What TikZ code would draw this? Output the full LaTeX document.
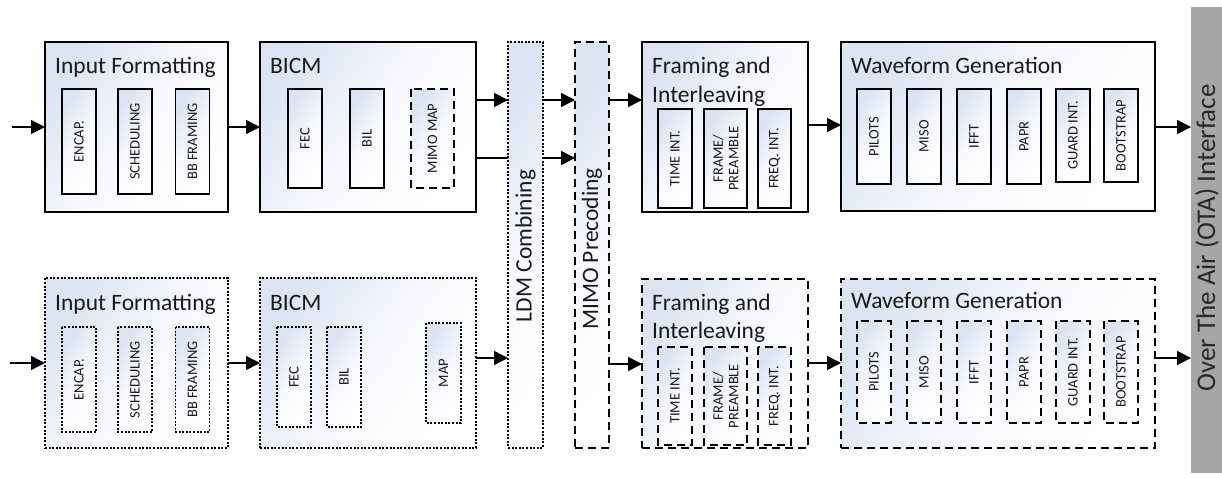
\documentclass[tikz,border=0pt]{standalone}
\usepackage{fontspec}
\setmainfont{Carlito}
\usetikzlibrary{arrows.meta,calc}
\definecolor{gradc}{RGB}{220,228,243}
\definecolor{otagray}{RGB}{166,166,166}
\definecolor{otatext}{RGB}{40,40,40}
\definecolor{txt}{RGB}{25,25,25}
\tikzset{
  boxbase/.style={draw=black, line width=1.4pt, inner sep=0pt, outer sep=0pt, text=txt,
    top color=gradc, bottom color=white, middle color=white!75!gradc, shading angle=55},
  solidbox/.style={boxbase},
  dotbox/.style={boxbase, dash pattern=on 2pt off 1.6pt},
  dashbox/.style={boxbase, dash pattern=on 8pt off 5pt},
  title/.style={anchor=base west, inner sep=0pt, text=txt, font=\fontsize{23.5}{28}\selectfont},
  sub/.style={rotate=90, inner sep=0pt, align=center, font=\fontsize{14.5}{15.5}\selectfont},
  arr/.style={line width=1.6pt, -{Triangle[length=14pt,width=14pt]}},
  ln/.style={line width=1.6pt}
}
\newcommand{\obox}[6]{% style, name, x1,y1,x2,y2
  \node[#1, anchor=north west, minimum width={(#5-#3)*1pt}, minimum height={(#6-#4)*1pt}] (#2) at (#3,#4) {};}
\newcommand{\ibox}[7]{% style, name, cx, cy, w, h, text
  \node[#1, sub, minimum width=#6pt, minimum height=#5pt] (#2) at (#3,#4) {#7};}
\begin{document}
\begin{tikzpicture}[x=1pt,y=-1pt]
\useasboundingbox (0,0) rectangle (1222,477);

% ---------- top row ----------
\obox{solidbox}{if1}{45}{42}{228}{212}
\node[title] (tif1) at (55,73) {Input Formatting};
\ibox{solidbox}{enc1}{79}{141.5}{34}{105}{ENCAP.}
\ibox{solidbox}{sch1}{135}{141.5}{34}{105}{SCHEDULING}
\ibox{solidbox}{bbf1}{192.5}{141.5}{34}{105}{BB FRAMING}

\obox{solidbox}{bicm1}{260}{42}{476}{212}
\node[title] (tbicm1) at (270,73) {BICM};
\ibox{solidbox}{fec1}{305}{138.5}{34}{99}{FEC}
\ibox{solidbox}{bil1}{367}{138.5}{34}{99}{BIL}
\ibox{dashbox}{mm1}{432.5}{138.5}{43}{99}{MIMO MAP}

\obox{dotbox}{ldm}{508}{42}{543}{448}
\node[rotate=90, inner sep=0pt, text=txt, font=\fontsize{23.5}{28}\selectfont] (tldm) at (525.5,246) {LDM Combining};
\obox{dashbox}{mimo}{575}{42}{609}{448}
\node[rotate=90, inner sep=0pt, text=txt, font=\fontsize{23.5}{28}\selectfont] (tmimo) at (592,249) {MIMO Precoding};

\obox{solidbox}{fi1}{642}{42}{808}{212}
\node[title] (tfi1a) at (652,73) {Framing and};
\node[title] (tfi1b) at (652,102) {Interleaving};
\ibox{solidbox}{ti1}{675}{158.5}{34}{99}{TIME INT.}
\ibox{solidbox}{fp1}{725.5}{158.5}{43}{99}{FRAME/\\PREAMBLE}
\ibox{solidbox}{fq1}{774.5}{158.5}{33}{99}{FREQ. INT.}

\obox{solidbox}{wg1}{841}{42}{1155}{211}
\node[title] (twg1) at (851,73) {Waveform Generation};
\ibox{solidbox}{pil1}{874}{136.5}{34}{95}{PILOTS}
\ibox{solidbox}{mis1}{924}{136.5}{34}{95}{MISO}
\ibox{solidbox}{ift1}{974}{136.5}{34}{95}{IFFT}
\ibox{solidbox}{pap1}{1024}{136.5}{34}{95}{PAPR}
\ibox{solidbox}{gi1}{1073}{135.5}{34}{93}{GUARD INT.}
\ibox{solidbox}{bs1}{1121}{135.5}{34}{93}{BOOTSTRAP}

% ---------- bottom row ----------
\obox{dotbox}{if2}{45}{278}{228}{448}
\node[title] (tif2) at (55,310) {Input Formatting};
\ibox{dotbox}{enc2}{79}{379.5}{34}{105}{ENCAP.}
\ibox{dotbox}{sch2}{135}{379.5}{34}{105}{SCHEDULING}
\ibox{dotbox}{bbf2}{192.5}{379.5}{34}{105}{BB FRAMING}

\obox{dotbox}{bicm2}{260}{278}{476}{448}
\node[title] (tbicm2) at (270,310) {BICM};
\ibox{dotbox}{fec2}{294}{377}{34}{100}{FEC}
\ibox{dotbox}{bil2}{344}{377}{34}{100}{BIL}
\ibox{dotbox}{map2}{443.5}{373}{35}{100}{MAP}

\obox{dashbox}{fi2}{642}{279}{808}{448}
\node[title] (tfi2a) at (652,310) {Framing and};
\node[title] (tfi2b) at (652,338) {Interleaving};
\ibox{dashbox}{ti2}{675}{396}{34}{98}{TIME INT.}
\ibox{dashbox}{fp2}{725.5}{396}{43}{98}{FRAME/\\PREAMBLE}
\ibox{dashbox}{fq2}{774.5}{396}{33}{98}{FREQ. INT.}

\obox{dashbox}{wg2}{841}{279}{1155}{448}
\node[title] (twg2) at (851,308) {Waveform Generation};
\ibox{dashbox}{pil2}{874}{372}{34}{102}{PILOTS}
\ibox{dashbox}{mis2}{924}{372}{34}{102}{MISO}
\ibox{dashbox}{ift2}{974}{372}{34}{102}{IFFT}
\ibox{dashbox}{pap2}{1024}{372}{34}{102}{PAPR}
\ibox{dashbox}{gi2}{1073}{372}{34}{102}{GUARD INT.}
\ibox{dashbox}{bs2}{1121}{372}{34}{102}{BOOTSTRAP}

% ---------- OTA bar ----------
\node[fill=otagray, draw=none, inner sep=0pt, anchor=north west, minimum width=31pt, minimum height=466pt] (ota) at (1191,7) {};
\node[rotate=90, inner sep=0pt, text=otatext, font=\fontsize{27}{32}\selectfont] (tota) at (1207,238) {Over The Air (OTA) Interface};

% ---------- connectors ----------
\coordinate (in1) at (12,127);
\coordinate (in2) at (10,363);
\draw[arr] (in1) -- (in1 -| if1.west);
\draw[arr] (if1.east |- in1) -- (bicm1.west |- in1);
\draw[arr] (bicm1.east |- 0,100) -- (ldm.west |- 0,100);
\draw[ln]  (bicm1.east |- 0,158) -- (ldm.west |- 0,158);
\draw[arr] (ldm.east |- 0,100) -- (mimo.west |- 0,100);
\draw[arr] (ldm.east |- 0,158) -- (mimo.west |- 0,158);
\draw[arr] (mimo.east |- 0,100) -- (fi1.west |- 0,100);
\draw[arr] (fi1.east |- 0,125) -- (wg1.west |- 0,125);
\draw[arr] (wg1.east |- 0,127) -- (ota.west |- 0,127);

\draw[arr] (in2) -- (in2 -| if2.west);
\draw[arr] (if2.east |- in2) -- (bicm2.west |- in2);
\draw[arr] (bicm2.east |- 0,358) -- (ldm.west |- 0,358);
\draw[arr] (mimo.east |- 0,364) -- (fi2.west |- 0,364);
\draw[arr] (fi2.east |- 0,363) -- (wg2.west |- 0,363);
\draw[arr] (wg2.east |- 0,358) -- (ota.west |- 0,358);
\end{tikzpicture}
\end{document}
